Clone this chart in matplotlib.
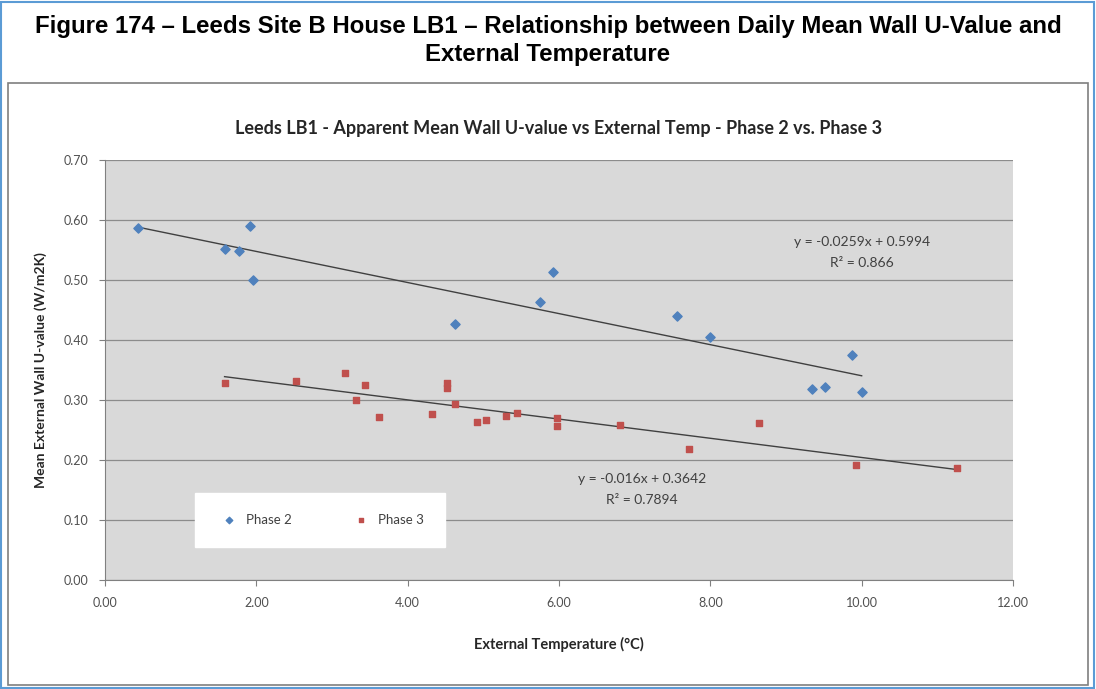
import matplotlib.pyplot as plt
from matplotlib.patches import Rectangle
import numpy as np

# Phase 2 (blue diamonds)
phase2_temp = [0.44, 1.59, 1.77, 1.92, 1.96, 4.63, 5.75, 5.92, 7.56, 7.99, 9.87, 9.34, 9.52, 10.00]
phase2_u = [0.587, 0.552, 0.548, 0.590, 0.500, 0.427, 0.463, 0.513, 0.440, 0.405, 0.375, 0.318, 0.322, 0.313]

# Phase 3 (red squares)
phase3_temp = [1.58, 2.52, 3.17, 3.43, 3.32, 3.62, 4.32, 4.52, 4.52, 4.63, 4.91, 5.03,
               5.30, 5.44, 5.97, 5.97, 6.81, 7.72, 8.64, 9.93, 11.26]
phase3_u = [0.328, 0.331, 0.345, 0.325, 0.300, 0.272, 0.276, 0.329, 0.320, 0.293, 0.263, 0.266,
            0.274, 0.278, 0.270, 0.257, 0.258, 0.218, 0.261, 0.192, 0.186]

# trendline coefficients as printed on the chart
fit2 = (-0.0259, 0.5994, 0.866)
fit3 = (-0.016, 0.3642, 0.7894)

xticks = np.arange(0, 12.01, 2)
yticks = np.arange(0, 0.701, 0.1)

fig = plt.figure(figsize=(10.96, 6.89), dpi=100)
W, H = 1096, 689

# outer blue frame and inner chart frame
fig.patches.append(Rectangle((1 / W, 1 / H), 1 - 3 / W, 1 - 3 / H, transform=fig.transFigure,
                             fill=False, edgecolor='#5b9bd5', linewidth=1.5))
fig.patches.append(Rectangle((8 / W, 4 / H), 1 - 16 / W, 1 - 87 / H, transform=fig.transFigure,
                             fill=False, edgecolor='#7f7f7f', linewidth=1.2))

fig.text(0.5, 1 - 26 / H, 'Figure 174 \u2013 Leeds Site B House LB1 \u2013 Relationship between Daily Mean Wall U-Value and',
         ha='center', va='center', fontsize=17.3, fontweight='bold', family='Liberation Sans')
fig.text(0.5, 1 - 54 / H, 'External Temperature', ha='center', va='center', fontsize=17.3,
         fontweight='bold', family='Liberation Sans')

ax = fig.add_axes([105 / W, 1 - 580 / H, (1013 - 105) / W, (580 - 160) / H])
ax.set_facecolor('#d9d9d9')

ax.scatter(phase2_temp, phase2_u, marker='D', s=22, color='#4f81bd', label='Phase 2', zorder=3)
ax.scatter(phase3_temp, phase3_u, marker='s', s=16, color='#c0504d', label='Phase 3', zorder=3)

for xs, (m, c, r2) in [(phase2_temp, fit2), (phase3_temp, fit3)]:
    xl = np.array([min(xs), max(xs)])
    ax.plot(xl, m * xl + c, color='#404040', linewidth=1.0, zorder=2)

eq_style = dict(ha='center', va='center', fontsize=10, color='#404040', family='Lato')
ax.text(10.0, 0.563, 'y = -0.0259x + 0.5994', **eq_style)
ax.text(10.0, 0.528, 'R\u00b2 = 0.866', **eq_style)
ax.text(7.1, 0.168, 'y = -0.016x + 0.3642', **eq_style)
ax.text(7.1, 0.133, 'R\u00b2 = 0.7894', **eq_style)

ax.set_xlim(0, 12)
ax.set_ylim(0, 0.7)
ax.set_xticks(xticks)
ax.set_yticks(yticks)
ax.set_xticklabels([f'{v:.2f}' for v in xticks], family='Lato', fontsize=9, color='#505050')
ax.set_yticklabels([f'{v:.2f}' for v in yticks], family='Lato', fontsize=9, color='#505050')
ax.tick_params(length=4, color='#808080', pad=8)
ax.grid(True, axis='y', color='#8c8c8c', linewidth=0.9)
ax.set_axisbelow(True)
for s in ['top', 'right']:
    ax.spines[s].set_visible(False)
ax.spines['left'].set_color('#808080')
ax.spines['bottom'].set_color('#808080')

ax.set_title('Leeds LB1 - Apparent Mean Wall U-value vs External Temp - Phase 2 vs. Phase 3',
             fontsize=13, fontweight='bold', family='Lato', color='#262626', pad=19)
ax.set_xlabel('External Temperature (\u00b0C)', fontsize=10.5, fontweight='bold', family='Lato',
              color='#262626', labelpad=20)
ax.set_ylabel('Mean External Wall U-value (W/m2K)', fontsize=10, fontweight='bold', family='Lato',
              color='#262626', labelpad=12)

leg = ax.legend(loc='lower left', bbox_to_anchor=((195 - 105) / (1013 - 105), (580 - 547) / 420,
                                                  (445 - 195) / (1013 - 105), (547 - 481) / 420),
                mode='expand', ncol=2, frameon=True, fancybox=False, borderpad=1.6,
                handletextpad=0.3, markerscale=0.7, prop={'family': 'Lato', 'size': 9.5},
                labelcolor='#404040', borderaxespad=0)
leg.get_frame().set_facecolor('white')
leg.get_frame().set_edgecolor('white')
leg.get_frame().set_alpha(1)

fig.savefig('out.png', dpi=100)
